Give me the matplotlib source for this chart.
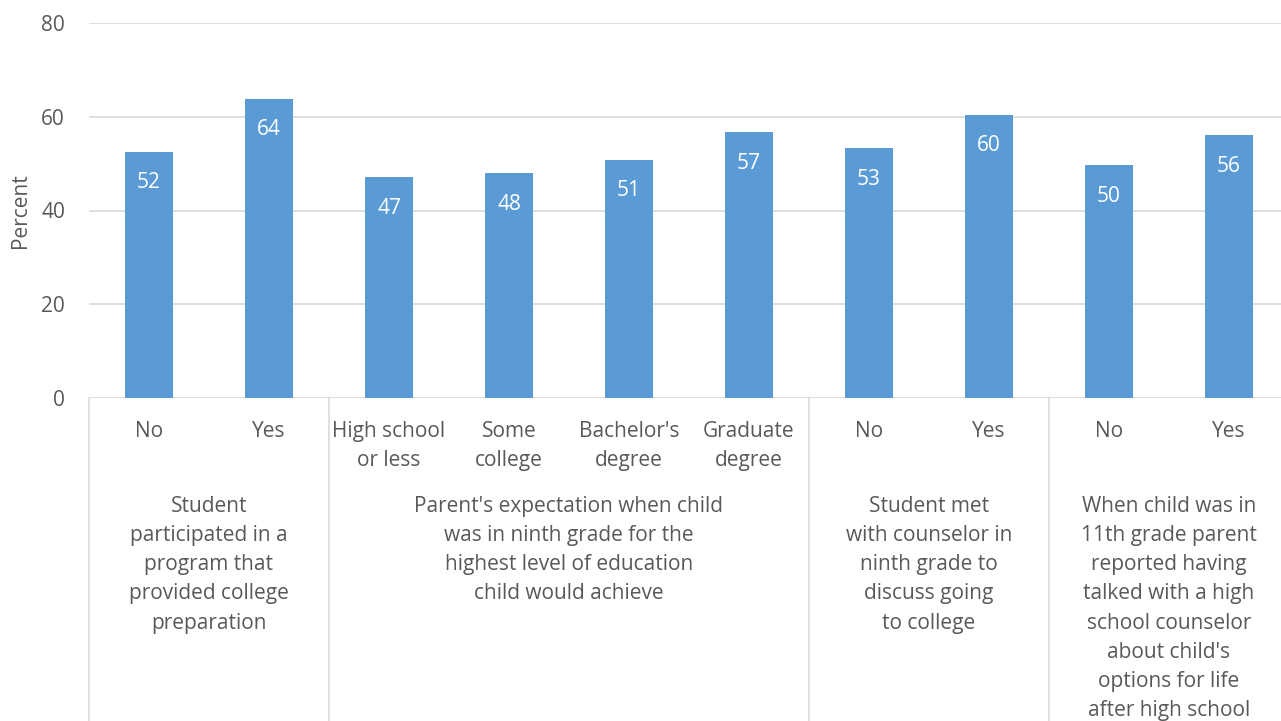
"""
Percent of students by college-preparation factors, grouped bar chart
with a two-level category axis (category labels plus group descriptions).
"""
import matplotlib
matplotlib.use("Agg")
import matplotlib.pyplot as plt

plt.rcParams["font.family"] = ["Open Sans", "DejaVu Sans"]

CATEGORIES = ["No", "Yes", "High school\nor less", "Some\ncollege", "Bachelor's\ndegree",
              "Graduate\ndegree", "No", "Yes", "No", "Yes"]
HEIGHTS = [52.5, 63.8, 47.1, 48.0, 50.8, 56.7, 53.3, 60.4, 49.7, 56.1]
LABELS = ["52", "64", "47", "48", "51", "57", "53", "60", "50", "56"]

GROUP_TEXT = [
    "Student\nparticipated in a\nprogram that\nprovided college\npreparation",
    "Parent's expectation when child\nwas in ninth grade for the\nhighest level of education\nchild would achieve",
    "Student met\nwith counselor in\nninth grade to\ndiscuss going\nto college",
    "When child was in\n11th grade parent\nreported having\ntalked with a high\nschool counselor\nabout child's\noptions for life\nafter high school",
]
# first and last category index in each group
GROUP_SPAN = [(0, 1), (2, 5), (6, 7), (8, 9)]

YTICKS = [0, 20, 40, 60, 80]

BAR = "#5b9bd5"
GRID = "#d9d9d9"
TXT = "#595959"
FS = 15
LS = 1.51
PX = 0.72  # points per pixel at dpi 100

fig = plt.figure(figsize=(12.81, 7.21), dpi=100)
ax = fig.add_axes([89 / 1281, 1 - 398 / 721, 1200 / 1281, 375 / 721])

xs = list(range(len(CATEGORIES)))
ax.bar(xs, HEIGHTS, width=0.4, color=BAR, zorder=2)
ax.set_xlim(-0.5, len(CATEGORIES) - 0.5)
ax.set_ylim(0, 80)
ax.set_yticks(YTICKS)
ax.yaxis.grid(True, color=GRID, lw=1.2, zorder=0)
ax.set_axisbelow(True)
ax.tick_params(axis="y", length=0, pad=24 * PX, labelsize=FS, labelcolor=TXT)
ax.set_xticks([])
for s in ax.spines.values():
    s.set_visible(False)
ax.set_ylabel("Percent", fontsize=FS, color=TXT, labelpad=10 * PX)

# value labels inside bars
for x, h, lab in zip(xs, HEIGHTS, LABELS):
    ax.annotate(lab, (x, h), xytext=(0, -31 * PX), textcoords="offset points",
                ha="center", va="center", color="white", fontsize=FS)

trans = ax.get_xaxis_transform()
# category labels
for x, lab in zip(xs, CATEGORIES):
    ax.annotate(lab, (x, 0), xycoords=trans, xytext=(0, -23 * PX),
                textcoords="offset points", ha="center", va="top",
                color=TXT, fontsize=FS, linespacing=LS, annotation_clip=False)

# group labels and separators
for (a, b), text in zip(GROUP_SPAN, GROUP_TEXT):
    ax.annotate(text, ((a + b) / 2, 0), xycoords=trans, xytext=(0, -98 * PX),
                textcoords="offset points", ha="center", va="top",
                color=TXT, fontsize=FS, linespacing=LS, annotation_clip=False)
    ax.plot([a - 0.5, a - 0.5], [0, -1], transform=trans, color=GRID,
            lw=1.2, clip_on=False)

fig.savefig("out.png", dpi=100)
